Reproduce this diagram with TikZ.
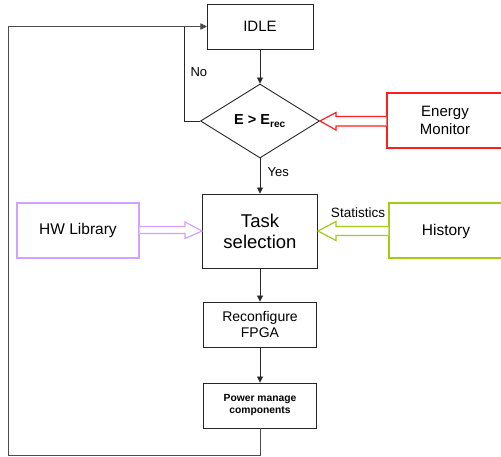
\documentclass[tikz,border=0pt]{standalone}
\usepackage{fontspec}
\setmainfont{Liberation Sans}
\usetikzlibrary{shapes.geometric,arrows.meta}
\definecolor{monred}{RGB}{255,30,30}
\definecolor{libviolet}{RGB}{210,160,255}
\definecolor{histgreen}{RGB}{160,205,20}
\definecolor{flowline}{RGB}{40,40,40}
\tikzset{
  box/.style={draw=black!85, line width=0.9pt, rectangle, inner sep=0pt, align=center},
  decision/.style={draw=black!85, line width=0.9pt, diamond, inner sep=0pt, aspect=1.6},
  flow/.style={draw=flowline, line width=0.8pt, -{Triangle[length=6pt,width=6pt]}},
  loopline/.style={draw=black!70, line width=0.9pt, -{Triangle[length=6pt,width=6pt]}},
  extbox/.style={rectangle, line width=1.2pt, inner sep=0pt, align=center, fill=white},
  hollow/.style={line width=1.2pt, line join=miter, fill=white},
}
\begin{document}
\begin{tikzpicture}[x=1pt,y=-1pt]
\useasboundingbox (0,0) rectangle (501,456);

% main flow
\node[box, minimum width=106pt, minimum height=45pt, font=\fontsize{15}{17}\selectfont] (idle) at (260,26.5) {IDLE};
\node[decision, minimum width=119pt, minimum height=74pt, font=\bfseries\fontsize{14.5}{17}\selectfont] (dec) at (260,121) {E > E\textsubscript{rec}};
\node[box, minimum width=115pt, minimum height=74pt, font=\fontsize{18.5}{21}\selectfont] (task) at (260,231) {Task\\selection};
\node[box, minimum width=113pt, minimum height=45pt, font=\fontsize{14}{16}\selectfont] (reconf) at (260,324.5) {Reconfigure\\FPGA};
\node[box, minimum width=113pt, minimum height=45pt, font=\bfseries\fontsize{10.3}{12}\selectfont] (power) at (260,405.5) {Power manage\\components};

% side inputs
\node[extbox, draw=monred, minimum width=118pt, minimum height=55pt] (mon) at (446,120.5) {};
\node[font=\fontsize{15}{17.5}\selectfont, align=center] (montext) at (445,120.5) {Energy\\Monitor};
\node[extbox, draw=histgreen, minimum width=118pt, minimum height=55pt] (hist) at (448,230.5) {};
\node[font=\fontsize{15.5}{18}\selectfont] (histtext) at (446,231) {History};
\node[extbox, draw=libviolet, minimum width=122pt, minimum height=55pt, font=\fontsize{15.5}{18}\selectfont] (hwlib) at (78,230.5) {HW Library};

% connectors
\draw[flow] (idle.south) -- (dec.north);
\draw[flow] (dec.south) -- (task.north);
\draw[flow] (task.south) -- (reconf.north);
\draw[flow] (reconf.south) -- (power.north);
\draw[flow] (dec.west) -- ++(-16,0) |- (idle.west);
\coordinate (loopcorner) at (8,455);
\draw[loopline] (power.south) |- (loopcorner) |- (idle.west);

% labels
\node[font=\fontsize{13}{15}\selectfont, anchor=west] (nolab) at (187,72) {No};
\node[font=\fontsize{13}{15}\selectfont, anchor=west] (yeslab) at (264,172) {Yes};
\node[font=\fontsize{13.5}{15}\selectfont, anchor=south] (statlab) at (358,221) {Statistics};

% hollow block arrows
\draw[hollow, draw=monred] (mon.west |- 0,126) -- (336,126) -- (336,130) -- (dec.east) -- (336,112.5) -- (336,116.5) -- (mon.west |- 0,116.5);
\draw[hollow, draw=histgreen] (hist.west |- 0,235.5) -- (336,235.5) -- (336,240.5) -- (task.east) -- (336,221.5) -- (336,226.5) -- (hist.west |- 0,226.5);
\draw[hollow, draw=libviolet] (hwlib.east |- 0,226.5) -- (185,226.5) -- (185,222) -- (task.west) -- (185,238.5) -- (185,233.5) -- (hwlib.east |- 0,233.5);
\end{tikzpicture}
\end{document}
